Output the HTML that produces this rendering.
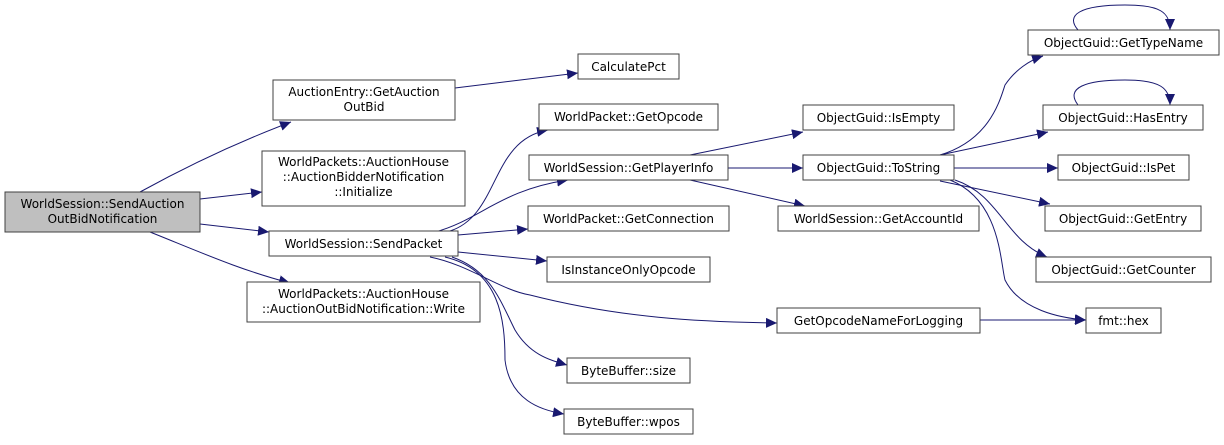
<!DOCTYPE html>
<html><head><meta charset="utf-8"><style>
html,body{margin:0;padding:0;background:#fff;}
svg text{font-family:"DejaVu Sans","Liberation Sans",sans-serif;font-size:12px;fill:#000;}
</style></head><body>
<svg width="1224" height="440" viewBox="0 0 1224 440" xmlns="http://www.w3.org/2000/svg">
<defs>
<marker id="a" markerUnits="userSpaceOnUse" markerWidth="12" markerHeight="10" refX="11" refY="5" orient="auto">
<path d="M0,0 L11,5 L0,10 Z" fill="#191970"/>
</marker>
</defs>
<g fill="none" stroke="#191970" stroke-width="1" marker-end="url(#a)">
<path d="M140,192 C180,170 230,145 291,122"/>
<path d="M200,199 L262,192"/>
<path d="M200,224 L269,232"/>
<path d="M150,232 C200,252 240,270 290,283"/>
<path d="M455,88 L578,73"/>
<path d="M450,231 C500,215 490,140 548,130"/>
<path d="M435,232 C480,220 500,190 568,180"/>
<path d="M458,235 L528,229"/>
<path d="M458,252 L547,261"/>
<path d="M430,257 C470,265 500,290 530,295 C620,318 700,322 777,323"/>
<path d="M452,257 C490,270 500,300 515,330 C530,355 550,360 567,365"/>
<path d="M445,257 C500,270 505,320 505,360 C510,400 540,410 564,414"/>
<path d="M690,155 L803,132"/>
<path d="M728,168 L803,168"/>
<path d="M690,180 L805,206"/>
<path d="M940,155 C990,140 1000,100 1005,85 C1015,70 1030,60 1043,56"/>
<path d="M940,155 L1048,132"/>
<path d="M954,168 L1058,168"/>
<path d="M940,181 L1050,204"/>
<path d="M955,180 C1000,195 1005,240 1047,257"/>
<path d="M950,180 C1000,200 1000,260 1005,280 C1020,310 1060,318 1086,320"/>
<path d="M980,320 L1086,320"/>
<path d="M1078,30 C1065,15 1080,5 1125,5 C1160,5 1170,12 1170,30"/>
<path d="M1078,105 C1065,88 1085,80 1125,80 C1160,80 1170,88 1170,105"/>
</g>
<g stroke="#404040" stroke-width="1">
<rect x="5" y="192" width="195" height="40" fill="#bfbfbf"/>
<rect x="273" y="80" width="182" height="40" fill="#fff"/>
<rect x="262" y="151" width="203" height="55" fill="#fff"/>
<rect x="269" y="231" width="189" height="25" fill="#fff"/>
<rect x="247" y="282" width="233" height="40" fill="#fff"/>
<rect x="578" y="54" width="101" height="25" fill="#fff"/>
<rect x="539" y="104" width="179" height="26" fill="#fff"/>
<rect x="529" y="155" width="199" height="25" fill="#fff"/>
<rect x="528" y="206" width="201" height="25" fill="#fff"/>
<rect x="547" y="257" width="163" height="25" fill="#fff"/>
<rect x="567" y="358" width="123" height="25" fill="#fff"/>
<rect x="564" y="409" width="129" height="25" fill="#fff"/>
<rect x="803" y="105" width="151" height="25" fill="#fff"/>
<rect x="803" y="155" width="151" height="25" fill="#fff"/>
<rect x="778" y="206" width="201" height="25" fill="#fff"/>
<rect x="777" y="308" width="203" height="25" fill="#fff"/>
<rect x="1028" y="30" width="191" height="25" fill="#fff"/>
<rect x="1043" y="105" width="160" height="25" fill="#fff"/>
<rect x="1058" y="155" width="131" height="25" fill="#fff"/>
<rect x="1045" y="206" width="156" height="25" fill="#fff"/>
<rect x="1036" y="257" width="175" height="25" fill="#fff"/>
<rect x="1086" y="308" width="75" height="25" fill="#fff"/>
</g>
<g text-anchor="middle">
<text x="102.5" y="208">WorldSession::SendAuction</text>
<text x="102.5" y="223">OutBidNotification</text>
<text x="364" y="96">AuctionEntry::GetAuction</text>
<text x="364" y="111">OutBid</text>
<text x="363.5" y="166">WorldPackets::AuctionHouse</text>
<text x="363.5" y="181">::AuctionBidderNotification</text>
<text x="363.5" y="196">::Initialize</text>
<text x="363.5" y="248">WorldSession::SendPacket</text>
<text x="363.5" y="298">WorldPackets::AuctionHouse</text>
<text x="363.5" y="313">::AuctionOutBidNotification::Write</text>
<text x="628.5" y="71">CalculatePct</text>
<text x="628.5" y="121">WorldPacket::GetOpcode</text>
<text x="628.5" y="172">WorldSession::GetPlayerInfo</text>
<text x="628.5" y="223">WorldPacket::GetConnection</text>
<text x="628.5" y="274">IsInstanceOnlyOpcode</text>
<text x="628.5" y="375">ByteBuffer::size</text>
<text x="628.5" y="426">ByteBuffer::wpos</text>
<text x="878.5" y="122">ObjectGuid::IsEmpty</text>
<text x="878.5" y="172">ObjectGuid::ToString</text>
<text x="878.5" y="223">WorldSession::GetAccountId</text>
<text x="878.5" y="325">GetOpcodeNameForLogging</text>
<text x="1123.5" y="47">ObjectGuid::GetTypeName</text>
<text x="1123" y="122">ObjectGuid::HasEntry</text>
<text x="1123.5" y="172">ObjectGuid::IsPet</text>
<text x="1123" y="223">ObjectGuid::GetEntry</text>
<text x="1123.5" y="274">ObjectGuid::GetCounter</text>
<text x="1123.5" y="325">fmt::hex</text>
</g>
</svg>
</body></html>
